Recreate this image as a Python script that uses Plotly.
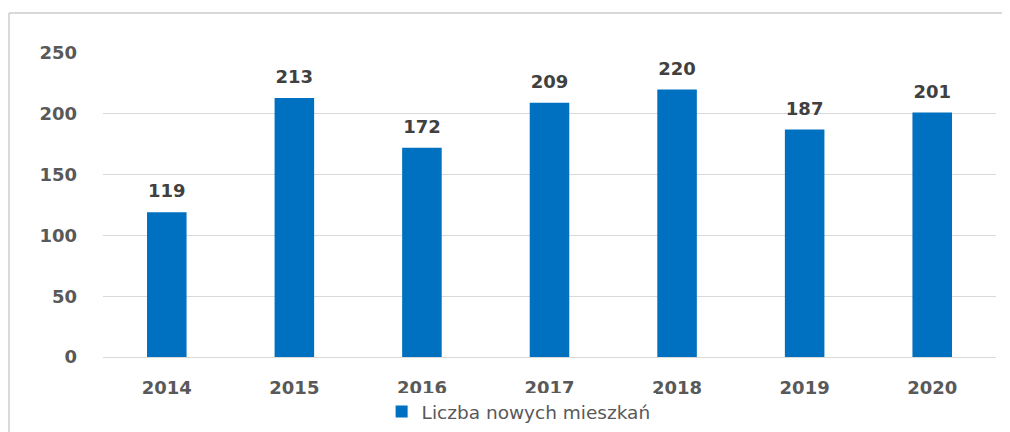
import plotly.graph_objects as go

years = ["2014", "2015", "2016", "2017", "2018", "2019", "2020"]
values = [119, 213, 172, 209, 220, 187, 201]
series_name = "Liczba nowych mieszkań"

FONT = "DejaVu Sans"

fig = go.Figure()
fig.add_trace(go.Bar(
    x=years, y=values, name=series_name,
    marker=dict(color="#0070C0", line=dict(width=0)),
    showlegend=True,
))
fig.add_trace(go.Scatter(
    x=years, y=values, mode="markers+text", text=[str(v) for v in values],
    textposition="top center",
    marker=dict(size=15, opacity=0),
    textfont=dict(family=FONT, size=18, color="#404040", weight="bold"),
    showlegend=False, hoverinfo="skip", cliponaxis=False,
))

fig.update_layout(
    width=1002, height=424,
    margin=dict(l=95, r=14, t=45, b=75, autoexpand=False),
    plot_bgcolor="white", paper_bgcolor="white",
    bargap=0.69,
    showlegend=True,
    legend=dict(orientation="h", x=0.312, xanchor="left", y=-0.181, yanchor="middle",
                font=dict(family=FONT, size=18.5, color="#595959"),
                itemwidth=30),
    xaxis=dict(type="category", showline=True, linecolor="#D9D9D9", linewidth=1, ticks="",
               automargin=False, ticklabelstandoff=14,
               tickfont=dict(family=FONT, size=18, color="#595959", weight="bold")),
    yaxis=dict(range=[0, 250], tickvals=[0, 50, 100, 150, 200, 250], automargin=False,
               showgrid=True, gridcolor="#D9D9D9", gridwidth=1, zeroline=False,
               ticks="", ticklabelstandoff=25,
               tickfont=dict(family=FONT, size=18, color="#595959", weight="bold")),
    shapes=[
        dict(type="line", xref="paper", yref="paper", x0=-0.1053, x1=1.1, y0=1.1316, y1=1.1316,
             line=dict(color="#D9D9D9", width=2)),
        dict(type="line", xref="paper", yref="paper", x0=-0.1053, x1=-0.1053, y0=1.1316, y1=-0.3,
             line=dict(color="#D9D9D9", width=2)),
    ],
)

fig.write_html("out.html")
